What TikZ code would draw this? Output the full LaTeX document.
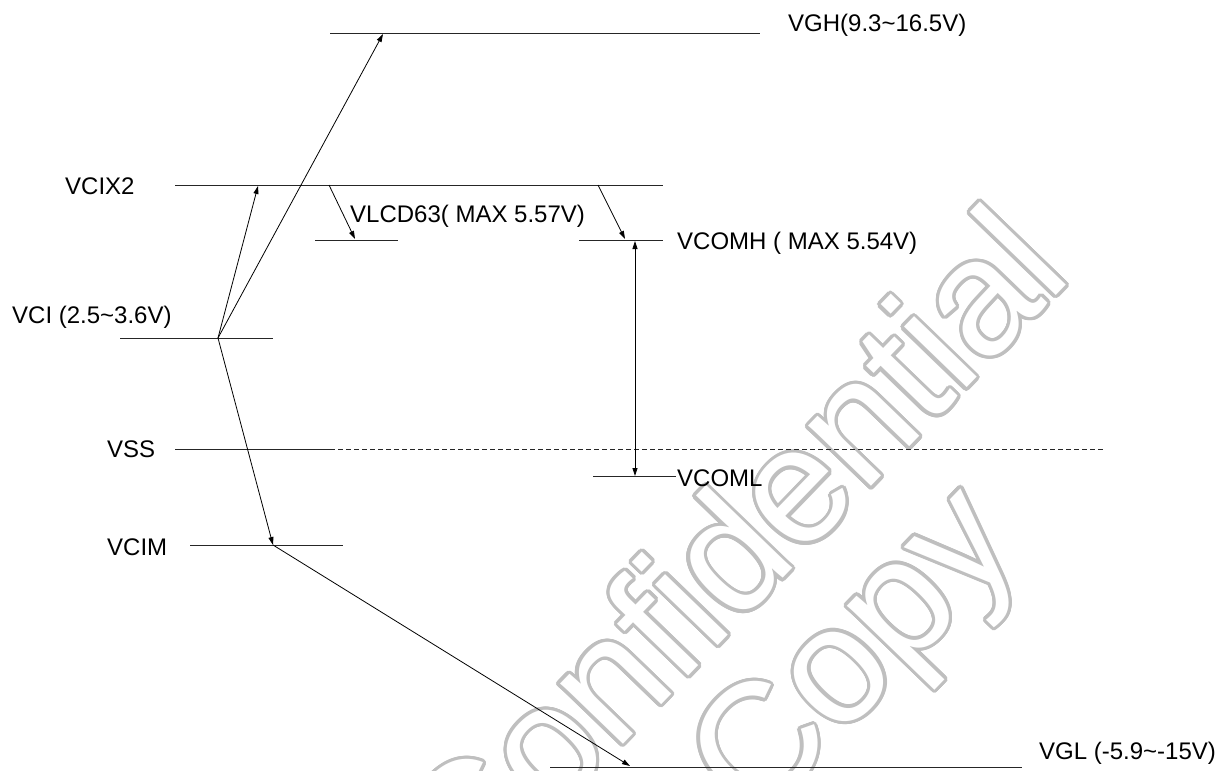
\documentclass[tikz,border=0pt]{standalone}
\usepackage{fontspec}
\setmainfont{Liberation Sans}
\usetikzlibrary{arrows.meta}
\begin{document}
\begin{tikzpicture}[x=1pt,y=-1pt,
  level/.style={line width=1pt, draw=black!85},
  conn/.style={line width=0.8pt, draw=black, -{Triangle[length=8pt,width=5pt]}},
  dbl/.style={line width=0.8pt, draw=black, {Triangle[length=8pt,width=5pt]}-{Triangle[length=8pt,width=5pt]}},
  dashlevel/.style={line width=1pt, draw=black!85, dash pattern=on 5pt off 3pt},
  lbl/.style={anchor=base west, inner sep=0pt, font=\fontsize{24}{28}\selectfont},
  wmgray/.style={inner sep=0pt, text=black!25, font=\fontsize{165}{180}\selectfont, rotate=46},
  wmwhite/.style={inner sep=0pt, text=white, font=\fontsize{165}{180}\selectfont, rotate=46}]
\useasboundingbox (0,0) rectangle (1221,771);
\fill[white] (0,0) rectangle (1221,771);
% watermark (outlined)
\foreach \a in {0,15,...,345}{
  \node[wmgray, anchor=base east] (wc\a) at ([shift={(\a:3.2)}]1074,277) {Confidential};
  \node[wmgray, anchor=base west] (wp\a) at ([shift={(\a:3.2)}]756,826) {Copy};
}
\node[wmwhite, anchor=base east] (wcw) at (1074,277) {Confidential};
\node[wmwhite, anchor=base west] (wpw) at (756,826) {Copy};

% level coordinates
\coordinate (vghL) at (330,33);   \coordinate (vghR) at (760,33);
\coordinate (x2L) at (175,185);   \coordinate (x2R) at (663,185);
\coordinate (lcdL) at (315,240);  \coordinate (lcdR) at (398,240);
\coordinate (comhL) at (579,240); \coordinate (comhR) at (663,240);
\coordinate (vciL) at (120,338);  \coordinate (vciR) at (273,338);
\coordinate (vssL) at (175,449);  \coordinate (vssM) at (330,449); \coordinate (vssR) at (1105,449);
\coordinate (comlL) at (593,476); \coordinate (comlR) at (676,476);
\coordinate (cimL) at (190,545);  \coordinate (cimR) at (343,545);
\coordinate (vglL) at (550,767);  \coordinate (vglR) at (1022,767);

\draw[level] (vghL) -- (vghR);
\draw[level] (x2L) -- (x2R);
\draw[level] (lcdL) -- (lcdR);
\draw[level] (comhL) -- (comhR);
\draw[level] (vciL) -- (vciR);
\draw[level] (vssL) -- (vssM);
\draw[dashlevel] (vssM) -- (vssR);
\draw[level] (comlL) -- (comlR);
\draw[level] (cimL) -- (cimR);
\draw[level] (vglL) -- (vglR);

% labels
\node[lbl] (tvgh) at (788,31) {VGH(9.3\textasciitilde16.5V)};
\node[lbl] (tx2) at (65,194) {VCIX2};
\node[lbl] (tlcd) at (350,222) {VLCD63( MAX 5.57V)};
\node[lbl] (tcomh) at (677,249) {VCOMH ( MAX 5.54V)};
\node[lbl] (tvci) at (12,323) {VCI (2.5\textasciitilde3.6V)};
\node[lbl] (tvss) at (107,457) {VSS};
\node[lbl] (tcoml) at (677,486) {VCOML};
\node[lbl] (tcim) at (107,555) {VCIM};
\node[lbl] (tvgl) at (1039,759) {VGL (-5.9\textasciitilde-15V)};

% connector points
\coordinate (pvci) at (218,338);
\coordinate (ax2) at (258,186);
\coordinate (avgh) at (383,34);
\coordinate (pcim) at (273,545);
\coordinate (avgl) at (630,766);
\coordinate (sx2a) at (329,185);
\coordinate (alcd) at (355,239);
\coordinate (sx2b) at (598,185);
\coordinate (acomh) at (625,239);
\coordinate (hTop) at (635,241);
\coordinate (hBot) at (635,476);

\draw[conn] (pvci) -- (ax2);
\draw[conn] (pvci) -- (avgh);
\draw[conn] (pvci) -- (pcim);
\draw[conn] (pcim) -- (avgl);
\draw[conn] (sx2a) -- (alcd);
\draw[conn] (sx2b) -- (acomh);
\draw[dbl] (hTop) -- (hBot);
\end{tikzpicture}
\end{document}
